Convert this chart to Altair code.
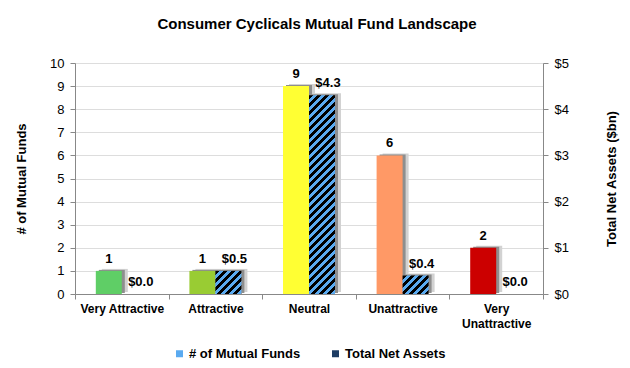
import altair as alt
import pandas as pd

# ---- data ----
categories = ["Very Attractive", "Attractive", "Neutral", "Unattractive", "Very Unattractive"]
fund_counts = [1, 1, 9, 6, 2]
net_assets = [0.0, 0.5, 4.3, 0.4, 0.0]
series_names = ["# of Mutual Funds", "Total Net Assets"]

# ---- style ----
rating_colors = ["#5fce66", "#99cc33", "#ffff33", "#ff9966", "#cc0000"]
hatch_blue = "#5aaaf0"
FONT = "Liberation Sans"
PLOT_W, PLOT_H = 468, 231
BAR_W = 26
COUNT_MAX, TNA_MAX = 10, 5

rows = []
for c, n, v in zip(categories, fund_counts, net_assets):
    rows.append({"category": c, "series": series_names[0], "value": n})
    rows.append({"category": c, "series": series_names[1], "value": v})
df = pd.DataFrame(rows)


def hatch(h, w=BAR_W, period=8.0, black_frac=0.58):
    """Diagonal '/' stripes drawn as a hard-stop linear gradient over a bar."""
    h = max(h, 1.0)
    L = w + h
    a = L / (w * w + h * h)
    stops = []
    k = 0
    while k * period < L:
        o0 = k * period / L
        o1 = min((k * period + black_frac * period) / L, 1.0)
        o2 = min((k + 1) * period / L, 1.0)
        stops += [(o0, "black"), (o1, "black"), (o1, hatch_blue), (o2, hatch_blue)]
        k += 1
    return alt.LinearGradient(
        gradient="linear",
        stops=[alt.GradientStop(offset=o, color=c) for o, c in stops],
        x1=0, y1=0, x2=a * w, y2=a * h,
    )


x_enc = alt.X(
    "category:N",
    sort=categories,
    scale=alt.Scale(domain=categories, paddingInner=0, paddingOuter=0),
    axis=alt.Axis(
        title=None, labelAngle=0, tickBand="extent", labelFontWeight="bold",
        labelFontSize=12, tickSize=5, labelPadding=4, labelBaseline="top",
        labelExpr="datum.value == 'Very Unattractive' ? ['Very', 'Unattractive'] : datum.value",
        labelLineHeight=15,
    ),
)
xo_enc = alt.XOffset(
    "series:N", sort=series_names,
    scale=alt.Scale(domain=series_names, paddingInner=0, paddingOuter=0.8),
)

y_left = alt.Y(
    "value:Q",
    scale=alt.Scale(domain=[0, COUNT_MAX], nice=False),
    axis=alt.Axis(
        title="# of Mutual Funds", orient="left", values=list(range(0, 11)),
        tickSize=5, labelPadding=6, titlePadding=21, labelFontSize=13,
        titleFontSize=13, titleFontWeight="bold",
    ),
)
y_right = alt.Y(
    "value:Q",
    scale=alt.Scale(domain=[0, TNA_MAX], nice=False),
    axis=alt.Axis(
        title="Total Net Assets ($bn)", orient="right", values=list(range(0, 6)),
        labelExpr="'$' + datum.value", tickSize=5, labelPadding=6, titlePadding=50,
        labelFontSize=13, titleFontSize=13, titleFontWeight="bold", titleAngle=270,
    ),
)

base = alt.Chart(df)
is_count = alt.datum.series == series_names[0]
is_tna = alt.datum.series == series_names[1]


def shadows(filt, y_enc, shift):
    """Soft drop shadow: two grey copies of the bars, nudged right/up."""
    outer = base.mark_bar(color="#d2d2d2", width=BAR_W, xOffset=shift + 6, yOffset=-2).encode(
        x=x_enc, y=y_enc
    ).transform_filter(filt)
    inner = base.mark_bar(color="#8e8e8e", width=BAR_W, xOffset=shift + 3, yOffset=-1).encode(
        x=x_enc, y=y_enc
    ).transform_filter(filt)
    return [outer, inner]


count_bars = base.mark_bar().encode(
    x=x_enc, xOffset=xo_enc, y=y_left,
    fill=alt.Fill("category:N", scale=alt.Scale(domain=categories, range=rating_colors), legend=None),
).transform_filter(is_count)
count_text = base.mark_text(
    baseline="alphabetic", dy=-8, font=FONT, fontSize=13, fontWeight="bold", color="black"
).encode(
    x=x_enc, xOffset=xo_enc, y=y_left, text=alt.Text("value:Q", format="d")
).transform_filter(is_count)

legend_layer = base.mark_point(shape="square", filled=True, opacity=0).encode(
    x=x_enc, xOffset=xo_enc, y=y_left,
    color=alt.Color(
        "series:N",
        scale=alt.Scale(domain=series_names, range=[hatch_blue, "#1d3c63"]),
        legend=alt.Legend(
            title=None, orient="none", legendX=98, legendY=284, direction="horizontal",
            symbolType="square", symbolSize=49, symbolOpacity=1, symbolStrokeWidth=0,
            labelFont=FONT, labelFontSize=13, labelFontWeight="bold", labelColor="black",
            columnPadding=28, labelOffset=3,
        ),
    ),
).transform_filter(is_count)

left = alt.layer(*shadows(is_count, y_left, -BAR_W / 2), count_bars, count_text, legend_layer)

tna_bars = []
for c, v in zip(categories, net_assets):
    h = v / TNA_MAX * PLOT_H
    tna_bars.append(
        base.mark_bar(color=hatch(h)).encode(x=x_enc, xOffset=xo_enc, y=y_right)
        .transform_filter(is_tna & (alt.datum.category == c))
    )
tna_text = base.mark_text(
    baseline="alphabetic", dy=-8, dx=6, font=FONT, fontSize=13, fontWeight="bold", color="black"
).encode(
    x=x_enc, xOffset=xo_enc, y=y_right, text=alt.Text("value:Q", format="$.1f")
).transform_filter(is_tna)

right = alt.layer(*shadows(is_tna, y_right, BAR_W / 2), *tna_bars, tna_text)

chart = (
    alt.layer(left, right)
    .resolve_scale(y="independent")
    .properties(
        width=PLOT_W, height=PLOT_H,
        autosize=alt.AutoSizeParams(type="none"),
        padding={"left": 67, "top": 55, "right": 79, "bottom": 66},
        title=alt.TitleParams(
            "Consumer Cyclicals Mutual Fund Landscape", font=FONT, fontSize=15,
            fontWeight="bold", color="black", anchor="middle", frame="group",
            baseline="alphabetic", offset=13, dx=8,
        ),
    )
    .configure_axis(
        labelFont=FONT, titleFont=FONT, labelColor="black", titleColor="black",
        domainColor="black", tickColor="black", grid=False, domainWidth=1,
    )
    .configure_view(stroke=None)
    .configure(background="white")
)

chart.save("out.html", embed_options={"renderer": "svg", "actions": False})
